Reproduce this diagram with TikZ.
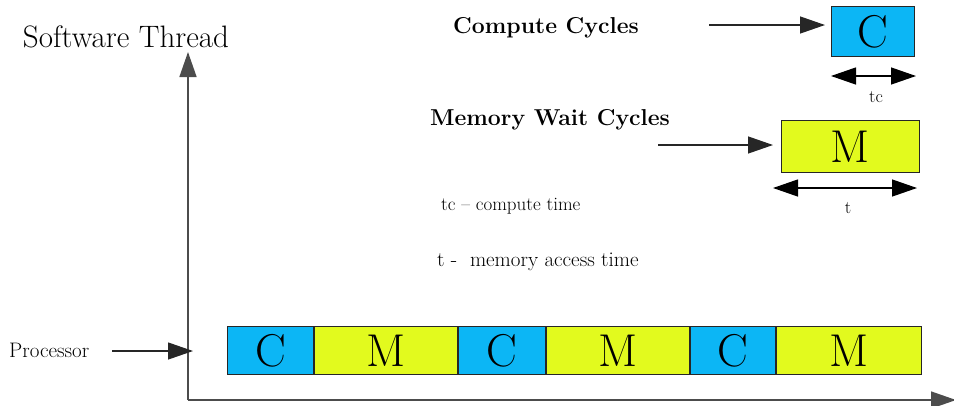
\documentclass[tikz,border=0pt]{standalone}
\usepackage{fontspec}
\usetikzlibrary{arrows.meta}
\definecolor{cyc}{RGB}{12,182,245}
\definecolor{yel}{RGB}{226,250,30}
\begin{document}
\begin{tikzpicture}[x=1pt,y=-1pt,
  fs/.style={font=\fontsize{#1}{#1}\selectfont},
  seg/.style={draw=black!85,line width=1pt,minimum height=48pt,inner sep=0pt,anchor=north west,fs=46},
  cbox/.style={seg,fill=cyc},
  mbox/.style={seg,fill=yel},
  arr/.style={line width=1.3pt,draw=black!85,-{Triangle[length=25pt,width=17pt]}},
  darr/.style={line width=1.3pt,{Triangle[length=25pt,width=17pt]}-{Triangle[length=25pt,width=17pt]}},
  lbl/.style={inner sep=0pt}]
\useasboundingbox (0,0) rectangle (954,405);
% axes
\coordinate (O) at (188,400);
\coordinate (Ytop) at (188,52);
\coordinate (Xend) at (956,400);
\draw[arr,line width=1.5pt,draw=black!70] (O) -- (Ytop);
\draw[arr,line width=1.5pt,draw=black!70] (O) -- (Xend);
\node[lbl,fs=31] (st) at (126,37) {Software Thread};
% processor bar
\node[cbox,minimum width=86pt] (c1) at (227,326) {C};
\node[mbox,minimum width=143pt] (m1) at (c1.north east) {M};
\node[cbox,minimum width=87pt] (c2) at (m1.north east) {C};
\node[mbox,minimum width=143pt] (m2) at (c2.north east) {M};
\node[cbox,minimum width=85pt] (c3) at (m2.north east) {C};
\node[mbox,minimum width=145pt] (m3) at (c3.north east) {M};
\node[lbl,fs=21,anchor=west] (proc) at (9,350) {Processor};
\coordinate (pa) at (112,351);
\coordinate (pb) at (193,351);
\draw[arr] (pa) -- (pb);
% legend C
\node[lbl,font=\fontsize{23}{23}\selectfont\bfseries] (cc) at (546,28) {Compute Cycles};
\node[cbox,minimum width=83pt,minimum height=50pt] (cl) at (831,6) {C};
\coordinate (ca) at (709,25);
\draw[arr,shorten >=6pt] (ca) -- (cl.west |- ca);
\coordinate (tca) at (831,76);
\coordinate (tcb) at (916,76);
\draw[darr] (tca) -- (tcb);
\node[lbl,fs=18] (tc) at (876,97) {tc};
% legend M
\node[lbl,font=\fontsize{23}{23}\selectfont\bfseries] (mwc) at (550,120) {Memory Wait Cycles};
\node[mbox,minimum width=138pt,minimum height=52pt] (ml) at (781,120) {M};
\coordinate (ma) at (658,145);
\draw[arr,shorten >=8pt] (ma) -- (ml.west |- ma);
\coordinate (ta) at (773,188);
\coordinate (tb) at (917,188);
\draw[darr] (ta) -- (tb);
\node[lbl,fs=18] (t) at (848,208) {t};
% definitions
\node[lbl,fs=19,anchor=west] (d1) at (441,206) {tc -- compute time};
\node[lbl,fs=21,anchor=west] (d2) at (437,262) {t -\ \ memory access time};
\end{tikzpicture}
\end{document}
